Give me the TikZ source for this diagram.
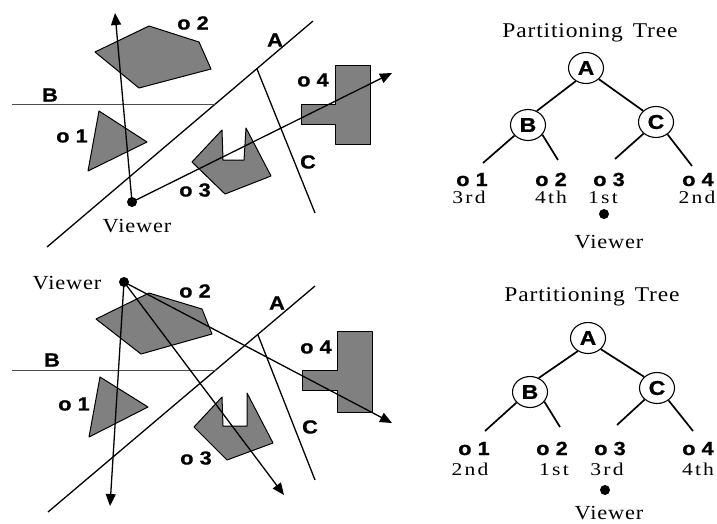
\documentclass[tikz,border=0pt]{standalone}
\usepackage{fontspec}
\setmainfont{Liberation Serif}
\newfontfamily\serifw[FakeStretch=1.12,LetterSpace=4]{Liberation Serif}
\newfontfamily\serifo[FakeStretch=1.2,LetterSpace=12]{Liberation Serif}
\newfontfamily\sansb[FakeStretch=1.15,FakeBold=0.8]{Liberation Sans}
\usetikzlibrary{arrows.meta,shapes.geometric}
\definecolor{objgray}{RGB}{128,128,128}
\begin{document}
\begin{tikzpicture}[x=1pt,y=-1pt,
  obj/.style={fill=objgray, draw=black, line width=1pt, line join=round},
  part/.style={line width=1.3pt},
  bline/.style={draw=black!70, line width=0.9pt},
  ray/.style={line width=1.3pt, -{Triangle[length=12pt,width=10pt]}},
  lbl/.style={font=\sansb\bfseries\fontsize{19}{19}\selectfont, inner sep=0pt},
  sertxt/.style={font=\serifw\fontsize{20}{20}\selectfont, inner sep=0pt},
  ordtxt/.style={font=\serifo\fontsize{18}{18}\selectfont, inner sep=0pt, anchor=base},
  ttl/.style={font=\serifw\fontsize{21}{21}\selectfont, inner sep=0pt, anchor=base},
  tnode/.style={ellipse, draw, line width=1.1pt, minimum width=35pt, minimum height=31pt, inner sep=0pt, font=\sansb\bfseries\fontsize{20}{20}\selectfont},
  tedge/.style={line width=1.7pt},
  vdot/.style={circle, fill=black, inner sep=0pt, minimum size=10pt}]
\useasboundingbox (0,0) rectangle (717,523);

% ================= top scene =================
\draw[obj] (95,52) -- (149,26) -- (199,42) -- (211,69) -- (139,88) -- cycle;
\draw[obj] (99,111) -- (147,142) -- (88,171) -- cycle;
\draw[obj] (192,162) -- (222,130) -- (223,160) -- (244,160) -- (246,128) -- (271,176) -- (225,194) -- cycle;
\draw[obj] (335,65) -- (370,65) -- (370,144) -- (335,144) -- (335,124) -- (301,124) -- (301,104) -- (335,104) -- cycle;
\draw[part] (47,247) -- (313,21);
\draw[bline] (12,104) -- (215,104);
\draw[part] (257,69) -- (315,213);
\node[vdot] (v1) at (132,202) {};
\coordinate (t1a) at (115,13);
\coordinate (t1b) at (392,73);
\draw[ray] (v1.center) -- (t1a);
\draw[ray] (v1.center) -- (t1b);
\node[lbl] (la1) at (275,40) {A};
\node[lbl] (lb1) at (50,95) {B};
\node[lbl] (lc1) at (308,162) {C};
\node[lbl] (lo11) at (72,136) {o 1};
\node[lbl] (lo21) at (193,23) {o 2};
\node[lbl] (lo31) at (195,190) {o 3};
\node[lbl] (lo41) at (313,80) {o 4};
\node[sertxt] (vl1) at (137,226) {Viewer};

% ================= bottom scene =================
\draw[obj] (96,319) -- (149,293) -- (202,309) -- (212,334) -- (141,354) -- cycle;
\draw[obj] (100,377) -- (148,407) -- (89,437) -- cycle;
\draw[obj] (194,427) -- (222,397) -- (223,426) -- (247,426) -- (247,393) -- (273,443) -- (227,460) -- cycle;
\draw[obj] (337,331) -- (372,331) -- (372,412) -- (337,412) -- (337,390) -- (302,390) -- (302,370) -- (337,370) -- cycle;
\draw[part] (48,512) -- (315,286);
\draw[bline] (12,370) -- (216,370);
\draw[part] (258,335) -- (315,480);
\node[vdot] (v2) at (124,282) {};
\coordinate (t2a) at (110,506);
\coordinate (t2b) at (284,495);
\coordinate (t2c) at (392,423);
\draw[ray] (v2.center) -- (t2a);
\draw[ray] (v2.center) -- (t2b);
\draw[ray] (v2.center) -- (t2c);
\node[lbl] (la2) at (277,303) {A};
\node[lbl] (lb2) at (52,360) {B};
\node[lbl] (lc2) at (310,427) {C};
\node[lbl] (lo12) at (74,404) {o 1};
\node[lbl] (lo22) at (195,291) {o 2};
\node[lbl] (lo32) at (196,458) {o 3};
\node[lbl] (lo42) at (316,347) {o 4};
\node[sertxt] (vl2) at (67,283) {Viewer};

% ================= top tree =================
\node[ttl] (tt1) at (590,37) {Partitioning\hspace{10pt}Tree};
\node[tnode] (A1) at (586,68) {A};
\node[tnode] (B1) at (528,125) {B};
\node[tnode] (C1) at (656,122) {C};
\draw[tedge] (A1.232) -- (B1.58);
\draw[tedge] (A1.319) -- (C1.139);
\coordinate (e11) at (483,163);
\coordinate (e21) at (558,160);
\coordinate (e31) at (615,159);
\coordinate (e41) at (692,166);
\draw[tedge] (B1.218) -- (e11);
\draw[tedge] (B1.326) -- (e21);
\draw[tedge] (C1.223) -- (e31);
\draw[tedge] (C1.313) -- (e41);
\node[lbl, anchor=base] (to11) at (472,186) {o 1};
\node[lbl, anchor=base] (to21) at (551,186) {o 2};
\node[lbl, anchor=base] (to31) at (609,186) {o 3};
\node[lbl, anchor=base] (to41) at (698,186) {o 4};
\node[ordtxt] (r11) at (469,203) {3rd};
\node[ordtxt] (r21) at (551,203) {4th};
\node[ordtxt] (r31) at (603,203) {1st};
\node[ordtxt] (r41) at (697,203) {2nd};
\node[vdot] (tv1) at (604,214) {};
\node[sertxt, anchor=base] (tvl1) at (609,248) {Viewer};

% ================= bottom tree =================
\node[ttl] (tt2) at (592,301) {Partitioning\hspace{10pt}Tree};
\node[tnode] (A2) at (588,338) {A};
\node[tnode] (B2) at (530,392) {B};
\node[tnode] (C2) at (657,388) {C};
\draw[tedge] (A2.232) -- (B2.58);
\draw[tedge] (A2.319) -- (C2.139);
\coordinate (e12) at (485,431);
\coordinate (e22) at (560,427);
\coordinate (e32) at (617,425);
\coordinate (e42) at (693,431);
\draw[tedge] (B2.218) -- (e12);
\draw[tedge] (B2.326) -- (e22);
\draw[tedge] (C2.223) -- (e32);
\draw[tedge] (C2.313) -- (e42);
\node[lbl, anchor=base] (to12) at (474,455) {o 1};
\node[lbl, anchor=base] (to22) at (552,455) {o 2};
\node[lbl, anchor=base] (to32) at (610,455) {o 3};
\node[lbl, anchor=base] (to42) at (698,455) {o 4};
\node[ordtxt] (r12) at (470,475) {2nd};
\node[ordtxt] (r22) at (554,475) {1st};
\node[ordtxt] (r32) at (607,475) {3rd};
\node[ordtxt] (r42) at (698,475) {4th};
\node[vdot] (tv2) at (605,490) {};
\node[sertxt, anchor=base] (tvl2) at (609,519) {Viewer};
\end{tikzpicture}
\end{document}
